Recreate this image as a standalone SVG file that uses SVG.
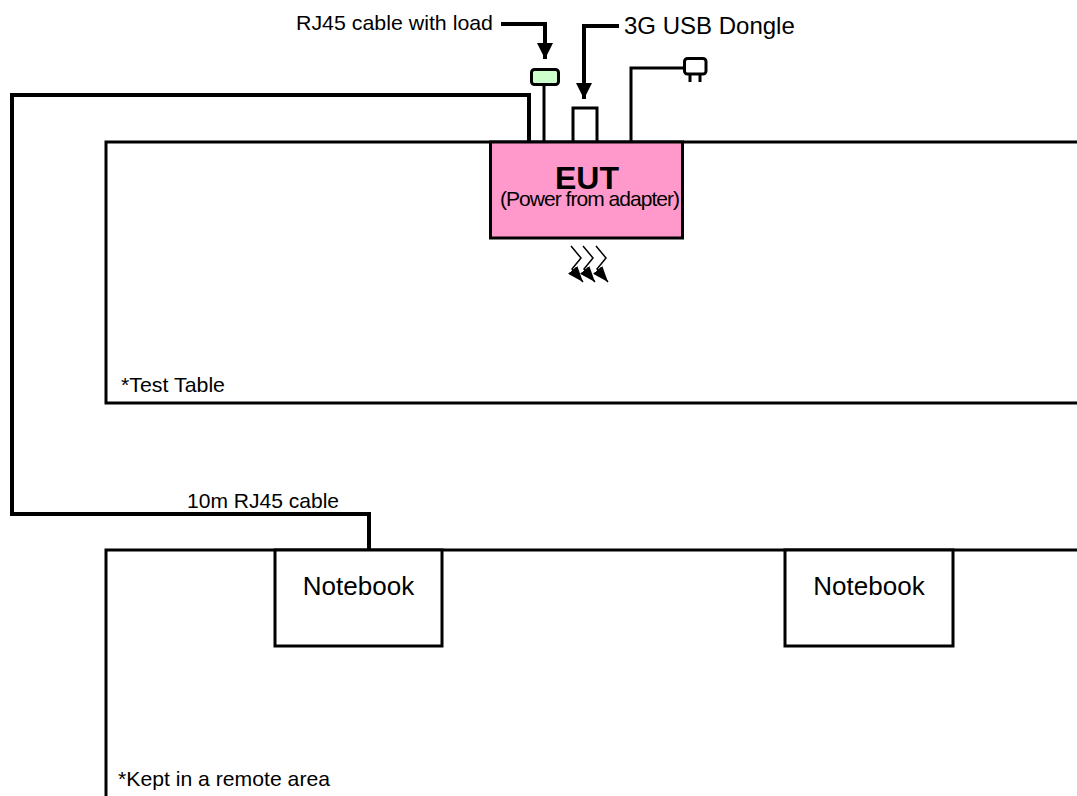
<svg xmlns="http://www.w3.org/2000/svg" width="1077" height="796" viewBox="0 0 1077 796">
<defs>
<marker id="big" markerUnits="userSpaceOnUse" markerWidth="16" markerHeight="16" refX="16" refY="8" orient="auto"><path d="M0 0L16 8L0 16Z" fill="#000"/></marker>
<marker id="small" markerUnits="userSpaceOnUse" markerWidth="16" markerHeight="12" refX="16" refY="6" orient="auto"><path d="M0 0L16 6L0 12Z" fill="#000"/></marker>
</defs>
<style>
text{font-family:"Liberation Sans",Arial,sans-serif;fill:#000}
.line{fill:none;stroke:#000;stroke-width:3}
.cable{fill:none;stroke:#000;stroke-width:4}
.box{fill:#fff;stroke:#000;stroke-width:3}
.heat{fill:none;stroke:#000;stroke-width:1.500}
.label{font-size:21px}
</style>
<rect width="1077" height="796" fill="#fff"/>
<g id="test-table"><path class="line" d="M1080 142H106V403H1080"/><text class="label" x="121" y="392" textLength="104" lengthAdjust="spacingAndGlyphs">*Test Table</text></g>
<g id="remote-area"><path class="line" d="M1080 550H106V796"/><text class="label" x="118" y="786" textLength="212" lengthAdjust="spacingAndGlyphs">*Kept in a remote area</text></g>
<g id="connectors">
<path class="cable" d="M529 142V95H12V514H369V550"/>
<path class="line" d="M544 142V85"/>
<path class="line" d="M631 142V68H684"/>
<path class="cable" d="M501 24H545V59" marker-end="url(#big)"/>
<path class="cable" d="M619 26H584V99" marker-end="url(#big)"/>
<path class="heat" d="M571 246L581 258L572 269L583 282" marker-end="url(#small)"/>
<path class="heat" d="M583 246L593 258L584 269L595 282" marker-end="url(#small)"/>
<path class="heat" d="M596 246L606 258L597 269L608 282" marker-end="url(#small)"/>
</g>
<g id="rj45-load"><rect x="531.500" y="69.500" width="27" height="15" rx="3" fill="#ccffcc" stroke="#000" stroke-width="3"/></g>
<g id="usb-dongle"><rect class="box" x="573" y="108" width="24" height="34"/></g>
<g id="plug"><rect x="684.500" y="58.500" width="21.500" height="15.500" rx="3" fill="#fff" stroke="#000" stroke-width="3"/><path class="line" d="M690 74V82M700 74V82"/></g>
<g id="eut"><rect x="490.500" y="142" width="192" height="96" fill="#ff99cc" stroke="#000" stroke-width="3"/><text x="587" y="189" font-size="32" font-weight="700" text-anchor="middle">EUT</text><text x="590" y="206" font-size="21" text-anchor="middle" textLength="180" lengthAdjust="spacing">(Power from adapter)</text></g>
<g id="notebook-1"><rect class="box" x="275" y="550" width="167" height="96"/><text x="358.500" y="595" font-size="26" text-anchor="middle">Notebook</text></g>
<g id="notebook-2"><rect class="box" x="785" y="550" width="168" height="96"/><text x="869" y="595" font-size="26" text-anchor="middle">Notebook</text></g>
<text class="label" x="296" y="30" textLength="197" lengthAdjust="spacingAndGlyphs">RJ45 cable with load</text>
<text x="624" y="34" font-size="24">3G USB Dongle</text>
<text class="label" x="187" y="508" textLength="152" lengthAdjust="spacingAndGlyphs">10m RJ45 cable</text>
</svg>
